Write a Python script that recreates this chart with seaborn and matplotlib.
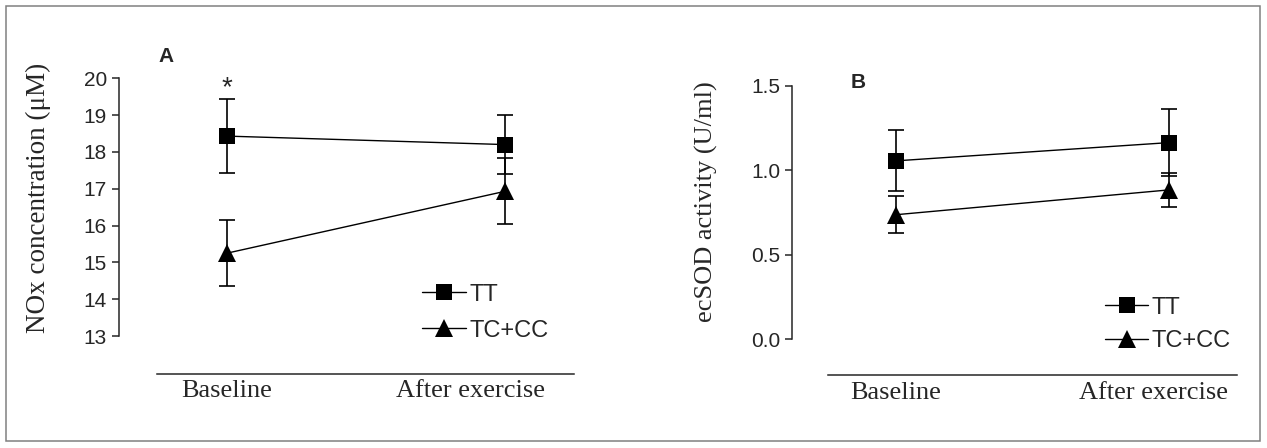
import numpy as np
import pandas as pd
import matplotlib
matplotlib.use('Agg')
import matplotlib.pyplot as plt
import matplotlib.transforms as mtransforms
import seaborn as sns
from matplotlib.patches import Rectangle
from matplotlib.ticker import FormatStrFormatter

# Werte (Mittelwert +/- SD)
visits = ["Baseline", "After exercise"]
groups = ["TT", "TC+CC"]

nox_tt = [18.43, 18.20]
nox_tt_sd = [1.00, 0.80]
nox_tc = [15.25, 16.93]
nox_tc_sd = [0.90, 0.90]

sod_tt = [1.055, 1.163]
sod_tt_sd = [0.18, 0.20]
sod_tc = [0.736, 0.883]
sod_tc_sd = [0.11, 0.10]

nox_ticks = [13, 14, 15, 16, 17, 18, 19, 20]
sod_ticks = [0.0, 0.5, 1.0, 1.5]

sns.set_style('ticks')
plt.rcParams['font.family'] = ['Liberation Sans', 'DejaVu Sans']
plt.rcParams['axes.linewidth'] = 1.1

fig = plt.figure(figsize=(12.67, 4.48), dpi=100)
ax_a = fig.add_axes([0.1243, 0.25, 0.3291, 0.5752])
ax_b = fig.add_axes([0.6533, 0.2433, 0.3232, 0.5654])

pos = np.arange(len(visits))
markers = {'TT': ('s', 11.3), 'TC+CC': ('^', 13)}


def draw_panel(ax, tt, tt_sd, tc, tc_sd):
    df = pd.DataFrame({
        'pos': np.tile(pos, 2),
        'val': tt + tc,
        'sd': tt_sd + tc_sd,
        'group': np.repeat(groups, len(visits)),
    })
    for g in groups:
        sub = df[df['group'] == g]
        ax.errorbar(sub['pos'], sub['val'], yerr=sub['sd'], fmt='none',
                    ecolor='black', elinewidth=1.2, capsize=5.6, capthick=1.2, zorder=2)
        m, ms = markers[g]
        sns.lineplot(data=sub, x='pos', y='val', marker=m, markersize=ms,
                     markeredgewidth=0, color='black', linewidth=1.0,
                     errorbar=None, label=g, ax=ax, zorder=3)
    ax.set_xlim(-0.25, 1.25)
    ax.set_xticks(pos)
    ax.set_xticklabels(visits)
    ax.set_xlabel('')
    ax.tick_params(axis='x', length=0, pad=5, labelsize=19,
                   labelfontfamily='Liberation Serif')
    ax.tick_params(axis='y', length=5, width=1.1, pad=3.3, labelsize=15)
    ax.legend_.remove()


def shift_last_label(ax, shift_px):
    # "After exercise" steht im Original etwas links vom Messpunkt
    lab = ax.get_xticklabels()[1]
    lab.set_transform(lab.get_transform() +
                      mtransforms.ScaledTranslation(-shift_px / 100, 0, fig.dpi_scale_trans))


# Panel A: NOx
draw_panel(ax_a, nox_tt, nox_tt_sd, nox_tc, nox_tc_sd)
ax_a.set_ylim(13, 20)
ax_a.set_yticks(nox_ticks)
sns.despine(ax=ax_a, offset={'left': 28, 'bottom': 27})
shift_last_label(ax_a, 34)
ax_a.set_ylabel('NOx concentration (\u03bcM)', fontsize=19.5, family='Liberation Serif')
ax_a.yaxis.label.set_va('center')
ax_a.yaxis.set_label_coords(-0.285, 0.537)
ax_a.text(0, 19.55, '*', ha='center', va='baseline', fontsize=20)
h, l = ax_a.get_legend_handles_labels()
ax_a.legend(h, l, loc='center left', bbox_to_anchor=(0.634, 0.091), frameon=False,
            fontsize=17, handlelength=1.86, handletextpad=0.14, labelspacing=0.59,
            borderpad=0, borderaxespad=0)

# Panel B: ecSOD
draw_panel(ax_b, sod_tt, sod_tt_sd, sod_tc, sod_tc_sd)
ax_b.set_ylim(0, 1.5)
ax_b.set_yticks(sod_ticks)
ax_b.yaxis.set_major_formatter(FormatStrFormatter('%.1f'))
sns.despine(ax=ax_b, offset={'left': 26, 'bottom': 26})
shift_last_label(ax_b, 15)
ax_b.set_ylabel('ecSOD activity (U/ml)', fontsize=19, family='Liberation Serif')
ax_b.yaxis.label.set_va('center')
ax_b.yaxis.set_label_coords(-0.295, 0.541)
h, l = ax_b.get_legend_handles_labels()
ax_b.legend(h, l, loc='center left', bbox_to_anchor=(0.676, 0.057), frameon=False,
            fontsize=17, handlelength=1.86, handletextpad=0.14, labelspacing=0.5,
            borderpad=0, borderaxespad=0)

# Panelbuchstaben
fig.text(166 / 1267, 1 - 57 / 448, 'A', ha='center', va='center', fontsize=15, fontweight='bold')
fig.text(858 / 1267, 1 - 82 / 448, 'B', ha='center', va='center', fontsize=15, fontweight='bold')

# Rahmen um die ganze Abbildung
fig.patches.append(Rectangle((6 / 1267, 7 / 448), 1254 / 1267, 435 / 448,
                             transform=fig.transFigure, fill=False,
                             edgecolor='#808080', linewidth=1.1))

fig.savefig('out.png', dpi=100)
